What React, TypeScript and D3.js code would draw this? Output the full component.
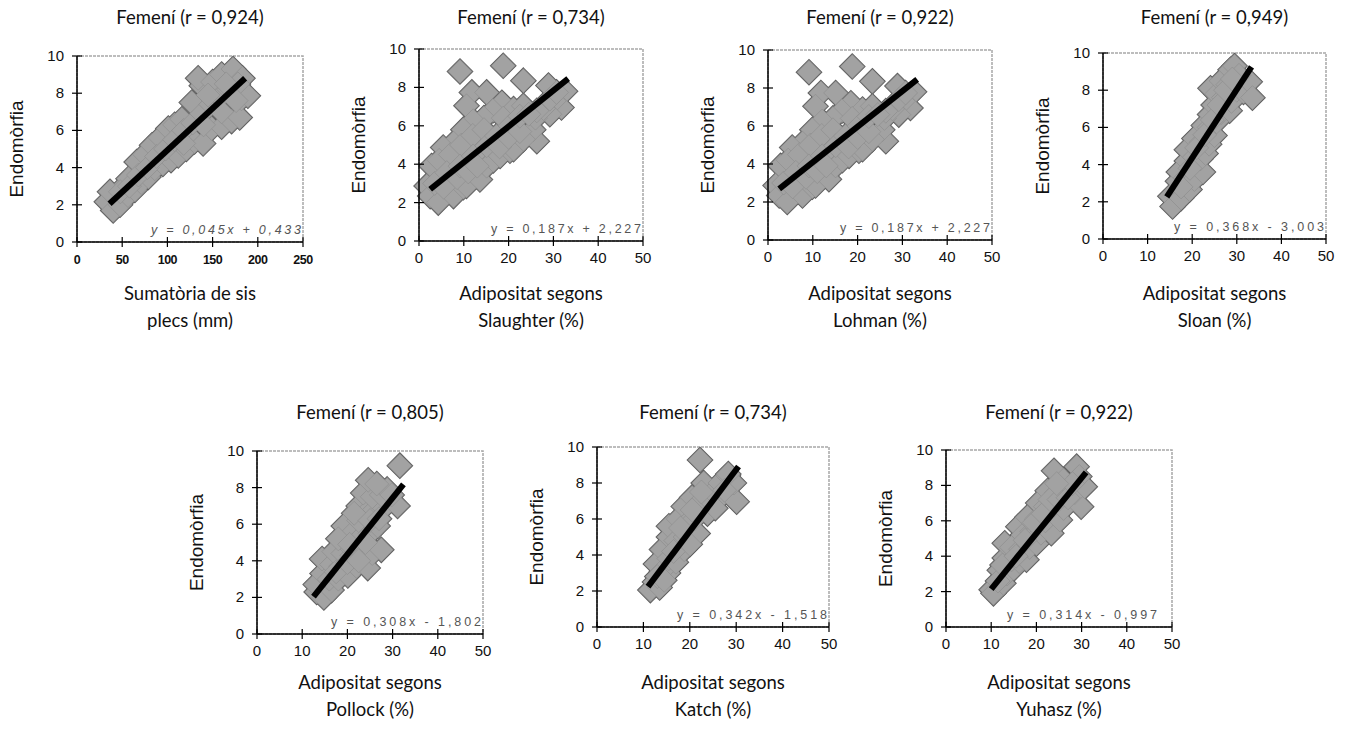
import React from 'react';
import * as d3 from 'd3';

// ---------- data ----------
const yTicks = [0, 2, 4, 6, 8, 10];
const xTicksPct = [0, 10, 20, 30, 40, 50];
const xTicksSum = [0, 50, 100, 150, 200, 250];

const titles = [
  'Femení (r = 0,924)',
  'Femení (r = 0,734)',
  'Femení (r = 0,922)',
  'Femení (r = 0,949)',
  'Femení (r = 0,805)',
  'Femení (r = 0,734)',
  'Femení (r = 0,922)',
];
const xTitles = [
  ['Sumatòria de sis', 'plecs (mm)'],
  ['Adipositat segons', 'Slaughter (%)'],
  ['Adipositat segons', 'Lohman (%)'],
  ['Adipositat segons', 'Sloan (%)'],
  ['Adipositat segons', 'Pollock (%)'],
  ['Adipositat segons', 'Katch (%)'],
  ['Adipositat segons', 'Yuhasz (%)'],
];
const yTitle = 'Endomòrfia';
const equations = [
  'y = 0,045x + 0,433',
  'y = 0,187x + 2,227',
  'y = 0,187x + 2,227',
  'y = 0,368x - 3,003',
  'y = 0,308x - 1,802',
  'y = 0,342x - 1,518',
  'y = 0,314x - 0,997',
];
const slopes = [0.045, 0.187, 0.187, 0.368, 0.308, 0.342, 0.314];
const intercepts = [0.433, 2.227, 2.227, -3.003, -1.802, -1.518, -0.997];
const lineFrom = [36, 2.5, 2.5, 14.3, 12.5, 11, 10];
const lineTo = [186, 33.3, 33.3, 33.3, 32.4, 30.5, 31];
const xMax = [250, 50, 50, 50, 50, 50, 50];

const sumPlecs: [number, number][] = [
  // upper edge
  [42, 2.2], [50, 2.9], [57, 3.4], [66, 4.3], [75, 4.7], [83, 5.2], [92, 5.6], [101, 6.1],
  [108, 6.3], [116, 6.6], [127, 7.5], [138, 8.4], [134, 8.8], [150, 8.6], [160, 9.0],
  [172.6, 9.3], [183, 8.8],
  // lower edge
  [33, 2.16], [40, 1.7], [47.6, 2.0], [56.4, 2.5], [64, 2.8], [71, 3.2], [79, 3.5], [86, 3.94],
  [95, 4.2], [104, 4.4], [112, 4.65], [121, 5.0], [130, 5.4], [139.5, 5.3], [149, 6.1],
  [160, 6.2], [171, 6.5], [180, 6.7], [182, 7.7], [189, 7.86],
  // middle
  [36.5, 2.7], [48, 2.7], [58, 3.0], [68, 3.6], [78, 4.0], [88, 4.6], [98, 5.0], [108, 5.5],
  [118, 6.0], [128, 6.4], [138, 6.9], [148, 7.4], [158, 7.8], [168, 8.2], [178, 8.5],
  [118, 5.3], [140, 6.3], [160, 7.0], [145, 7.9], [165, 8.5], [176, 7.6],
];
const slaughter: [number, number][] = [
  [9.15, 8.83], [18.8, 9.13], [23.3, 8.35], [28.9, 8.1],
  [32.6, 7.8], [31.8, 6.95], [30.2, 7.3], [29.2, 6.6],
  [11.8, 7.74], [15.1, 7.74], [10.6, 7.04], [18.5, 7.2], [21.1, 6.87], [23.3, 7.04],
  [16.5, 6.8], [14.5, 6.4], [12.1, 6.26], [18.8, 6.4],
  [9.9, 5.8], [7.7, 5.1], [5.4, 4.87], [2.8, 3.9], [4.5, 4.2], [7, 4.5], [9.5, 5.0],
  [12, 5.5], [14.5, 5.8],
  [26.3, 5.2], [25.5, 5.8], [26, 6.4], [27.8, 6.9],
  [1.7, 2.87], [2.5, 2.34], [4.3, 2.0], [7.7, 2.34], [9.9, 2.8], [10.6, 2.87], [13.6, 3.2],
  [15.1, 3.9], [16.6, 4.2], [18.1, 4.43], [20.3, 4.7], [21.1, 4.78], [23.3, 5.3],
  [3.5, 3.0], [6.2, 3.56], [5.5, 2.8], [8.5, 3.3], [9.15, 3.9], [11, 3.6], [12.1, 4.43],
  [13, 3.9], [15.1, 4.96], [17.3, 5.47], [18, 4.9], [20.3, 6.0], [20, 5.4], [22.5, 5.7],
  [22.5, 6.5], [26.3, 6.78], [29.2, 7.39], [30.7, 7.74], [24.5, 6.6],
];
const lohman = slaughter;
const sloan: [number, number][] = [
  [15.1, 2.3], [15.6, 1.75], [17.5, 2.2], [19.4, 2.66], [16.8, 3.1], [17, 3.6], [18.5, 3.3],
  [20.5, 3.2], [22.4, 3.6], [18.8, 4.2], [18.8, 4.8], [20.5, 4.4], [21.8, 4.3], [23, 4.6],
  [20.5, 5.4], [22, 5.2], [23.8, 5.1], [25, 5.56], [22.6, 6.1], [23.8, 6.0], [25.5, 6.3],
  [24, 6.7], [24.8, 7.2], [26.5, 6.8], [28.4, 6.9], [24.1, 8.1], [25.5, 7.8], [27, 7.6],
  [28.8, 7.4], [26.5, 8.5], [28, 8.3], [30, 8.0], [31.5, 7.9], [32.9, 8.45], [33.5, 7.6],
  [28.6, 9.1], [29.5, 9.3], [30.5, 8.8],
  [17.5, 2.8], [19.5, 3.8], [21, 4.9], [22.8, 5.6], [24.5, 6.4], [26, 7.2], [27.5, 8.0],
  [29, 8.6],
];
const pollock: [number, number][] = [
  [13.2, 2.3], [13.0, 2.7], [14.8, 2.0], [16.5, 2.4], [14.5, 3.3], [16, 3.0], [18, 3.0],
  [20.1, 3.2], [14.4, 4.1], [16.5, 3.8], [18.5, 3.7], [22, 3.7], [24.5, 3.6], [17, 4.5],
  [19, 4.4], [21, 4.3], [23, 4.5], [25.5, 4.4], [27.5, 4.6], [19.2, 5.1], [19.2, 5.9],
  [21, 5.5], [23, 5.3], [25, 5.5], [26.7, 5.9], [22.5, 6.2], [22.5, 7.0], [24, 6.6],
  [26, 6.8], [28, 6.9], [31.1, 7.0], [23.5, 7.7], [25.5, 7.5], [27.5, 7.6], [28.8, 7.9],
  [24.6, 8.4], [26.5, 8.2], [31.6, 9.2],
  [17.5, 3.4], [20, 3.9], [22.5, 4.0], [18, 5.2], [20.5, 4.9], [24, 5.0], [21.5, 6.6],
  [25, 6.2], [27, 6.3], [29.8, 7.6],
];
const katch: [number, number][] = [
  [11.5, 2.05], [12.5, 2.5], [13.5, 2.2], [15.3, 3.0], [12.7, 3.5], [14, 3.1], [14, 4.3],
  [15.5, 3.8], [17, 3.6], [18.8, 4.3], [15.5, 5.0], [15.5, 5.6], [17, 4.8], [19, 5.0],
  [21.7, 5.2], [17.5, 6.0], [18.7, 6.7], [19.5, 5.8], [21, 6.0], [23.8, 6.3], [20.5, 7.2],
  [22, 6.9], [24.5, 7.0], [26.5, 7.2], [30.1, 6.96], [23, 8.0], [25, 7.5], [26.5, 8.0],
  [28.2, 8.4], [29.5, 8.0], [28.3, 8.5], [22.2, 9.28],
  [13, 2.8], [14.5, 2.6], [16.5, 4.2], [20, 4.6], [18, 5.5], [20.5, 6.5], [22.5, 7.5],
  [25.5, 6.6], [27.5, 7.6],
];
const yuhasz: [number, number][] = [
  [10.1, 2.1], [10.5, 1.9], [12.7, 2.47], [11.9, 3.2], [13.5, 3.0], [15, 3.3], [13, 3.9],
  [14.5, 3.8], [16.2, 3.7], [17.8, 3.8], [13, 4.73], [14.5, 4.5], [16.5, 4.4], [18.5, 4.5],
  [20, 4.7], [16, 5.67], [17, 5.2], [19, 5.4], [21, 5.3], [23.3, 5.3], [18, 6.2], [20, 6.1],
  [22, 6.0], [25.2, 6.05], [20.4, 7.0], [22, 6.8], [24, 6.9], [26, 6.7], [29.9, 6.8],
  [22.5, 7.7], [24.5, 7.6], [26.5, 7.7], [28.5, 7.6], [30.7, 7.93], [23.9, 8.83], [26, 8.3],
  [28.9, 9.06], [29.5, 8.5],
  [11.5, 2.6], [12.5, 3.5], [15.5, 4.0], [17.5, 4.9], [19.5, 5.9], [21.5, 6.4], [23, 7.2],
  [25, 7.2], [27, 7.3], [28, 8.1], [24.5, 8.1],
];
const series = [sumPlecs, slaughter, lohman, sloan, pollock, katch, yuhasz];

// ---------- layout ----------
const frames = [
  { l: 77, r: 303, t: 56, b: 242, row: 0 },
  { l: 419, r: 643, t: 49, b: 241, row: 0 },
  { l: 768, r: 992, t: 50, b: 240, row: 0 },
  { l: 1103, r: 1326, t: 53, b: 239, row: 0 },
  { l: 257, r: 483, t: 451, b: 634, row: 1 },
  { l: 597, r: 829, t: 447, b: 627, row: 1 },
  { l: 946, r: 1172, t: 450, b: 627, row: 1 },
];
const titleY = [24, 419];
const xTitleY = [[300, 327], [689, 716]];

const gill = 'Lato, "Open Sans", sans-serif';
const arial = '"Liberation Sans", Arial, sans-serif';
const R = 12;

function diamond(px: number, py: number) {
  return `M${px},${py - R}L${px + R},${py}L${px},${py + R}L${px - R},${py}Z`;
}

function Panel({ i }: { i: number }) {
  const f = frames[i];
  const xs = d3.scaleLinear().domain([0, xMax[i]]).range([f.l, f.r]);
  const ys = d3.scaleLinear().domain([0, 10]).range([f.b, f.t]);
  const xt = i === 0 ? xTicksSum : xTicksPct;
  const cx = (f.l + f.r) / 2;
  const cy = (f.t + f.b) / 2;
  const line = d3.line<number>()
    .x((d) => xs(d))
    .y((d) => ys(slopes[i] * d + intercepts[i]));
  const pts = series[i].map(([x, y]) => [xs(x), ys(y)]);
  return (
    <g>
      <text x={cx} y={titleY[f.row]} textAnchor="middle" fontFamily={gill} fontSize={18.5} fill="#111">
        {titles[i]}
      </text>
      <rect x={f.l} y={f.t} width={f.r - f.l} height={f.b - f.t} fill="none" stroke="#a8a8a8" strokeWidth={1.5} strokeDasharray="3 1" />
      {pts.map(([px, py], k) => (
        <path key={'o' + k} d={diamond(px, py)} fill="#6a6a6a" stroke="#5e5e5e" strokeWidth={2.2} />
      ))}
      {pts.map(([px, py], k) => (
        <path key={'f' + k} d={diamond(px, py)} fill="#a2a2a2" stroke="#8c8c8c" strokeWidth={0.6} />
      ))}
      <path d={line([lineFrom[i], lineTo[i]]) || ''} stroke="#000" strokeWidth={6} fill="none" />
      <line x1={f.l} x2={f.l} y1={f.t} y2={f.b} stroke="#000" strokeWidth={1.5} />
      <line x1={f.l} x2={f.r} y1={f.b} y2={f.b} stroke="#000" strokeWidth={1.5} />
      {yTicks.map((t) => (
        <g key={'y' + t}>
          <line x1={f.l - 5} x2={f.l + 5} y1={ys(t)} y2={ys(t)} stroke="#000" strokeWidth={1.2} />
          <text x={f.l - 13} y={ys(t) + 5} textAnchor="end" fontFamily={arial} fontSize={15} fill="#111">
            {t}
          </text>
        </g>
      ))}
      {xt.map((t) => (
        <g key={'x' + t}>
          <line x1={xs(t)} x2={xs(t)} y1={f.b - 5} y2={f.b + 5} stroke="#000" strokeWidth={1.2} />
          <text
            x={xs(t)}
            y={f.b + 22}
            textAnchor="middle"
            fontFamily={arial}
            fontSize={i === 0 ? 12.5 : 15}
            fontWeight={i === 0 ? 'bold' : 'normal'}
            letterSpacing={i === 0 ? -0.5 : 0}
            fill="#111"
          >
            {t}
          </text>
        </g>
      ))}
      <text
        x={i === 6 ? f.r - 15 : f.r - 2}
        y={f.b - 8}
        textAnchor="end"
        fontFamily={arial}
        fontSize={12.5}
        fontStyle={i === 0 ? 'italic' : 'normal'}
        fill="#555"
        textLength={150}
        lengthAdjust="spacing"
      >
        {equations[i]}
      </text>
      <text
        transform={`translate(${f.l - 54},${cy}) rotate(-90)`}
        textAnchor="middle"
        fontFamily={arial}
        fontSize={19}
        fill="#111"
      >
        {yTitle}
      </text>
      {xTitles[i].map((s, k) => (
        <text key={k} x={cx} y={xTitleY[f.row][k]} textAnchor="middle" fontFamily={gill} fontSize={18.5} fill="#111">
          {s}
        </text>
      ))}
    </g>
  );
}

export default function App() {
  return (
    <svg
      width={1347}
      height={730}
      style={{ position: 'absolute', left: 0, top: 0, background: '#fff' }}
    >
      <rect width={1347} height={730} fill="#fff" />
      {frames.map((_, i) => (
        <Panel key={i} i={i} />
      ))}
    </svg>
  );
}
